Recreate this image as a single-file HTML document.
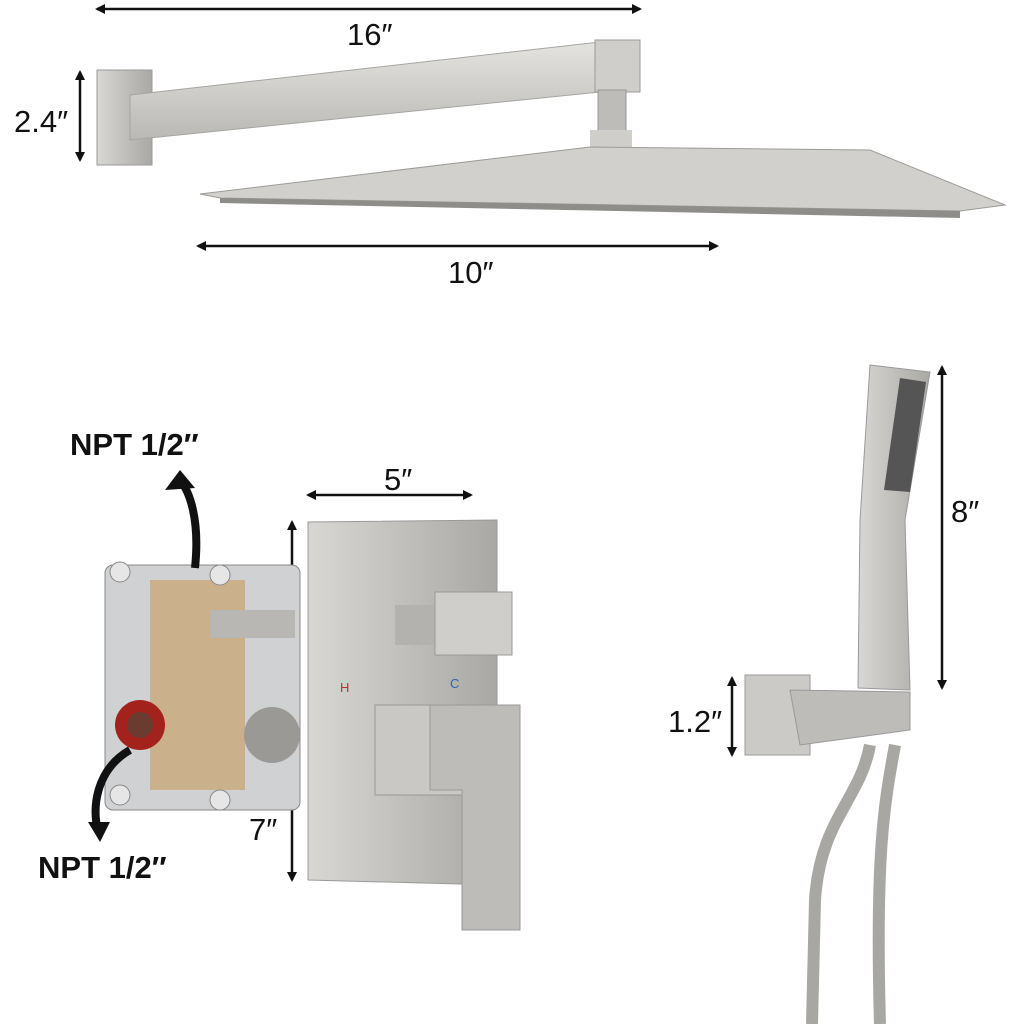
<!DOCTYPE html>
<html><head><meta charset="utf-8"><style>
html,body{margin:0;padding:0;background:#fff;width:1024px;height:1024px;overflow:hidden}
text{font-family:"Liberation Sans",sans-serif;fill:#111}
</style></head><body>
<svg width="1024" height="1024" viewBox="0 0 1024 1024" xmlns="http://www.w3.org/2000/svg">
<defs>
<marker id="a" markerWidth="10" markerHeight="10" refX="8" refY="5" orient="auto-start-reverse" markerUnits="userSpaceOnUse"><path d="M0,0 L10,5 L0,10 z" fill="#111"/></marker>
<linearGradient id="m" x1="0" y1="0" x2="0" y2="1"><stop offset="0" stop-color="#e4e3e0"/><stop offset="1" stop-color="#b9b8b4"/></linearGradient>
<linearGradient id="mh" x1="0" y1="0" x2="1" y2="0"><stop offset="0" stop-color="#d8d7d4"/><stop offset="1" stop-color="#a9a8a4"/></linearGradient>
</defs>
<g stroke="#111" stroke-width="2.5" fill="none">
<line x1="97" y1="9" x2="640" y2="9" marker-start="url(#a)" marker-end="url(#a)"/>
<line x1="80" y1="72" x2="80" y2="160" marker-start="url(#a)" marker-end="url(#a)"/>
<line x1="198" y1="246" x2="717" y2="246" marker-start="url(#a)" marker-end="url(#a)"/>
<line x1="308" y1="495" x2="471" y2="495" marker-start="url(#a)" marker-end="url(#a)"/>
<line x1="292" y1="522" x2="292" y2="880" marker-start="url(#a)" marker-end="url(#a)"/>
<line x1="942" y1="367" x2="942" y2="688" marker-start="url(#a)" marker-end="url(#a)"/>
<line x1="732" y1="678" x2="732" y2="755" marker-start="url(#a)" marker-end="url(#a)"/>
</g>
<g font-size="31">
<text x="347" y="45">16″</text>
<text x="14" y="132">2.4″</text>
<text x="448" y="283">10″</text>
<text x="384" y="490">5″</text>
<text x="249" y="840">7″</text>
<text x="951" y="522">8″</text>
<text x="668" y="732">1.2″</text>
<text x="70" y="455" font-weight="bold">NPT 1/2″</text>
<text x="38" y="878" font-weight="bold">NPT 1/2″</text>
</g>
<rect x="97" y="70" width="55" height="95" fill="url(#mh)" stroke="#999"/>
<polygon points="130,95 600,42 640,42 640,90 600,92 130,140" fill="url(#m)" stroke="#a5a5a2"/>
<rect x="595" y="40" width="45" height="52" fill="#cfcecb" stroke="#999"/>
<rect x="598" y="90" width="28" height="42" fill="#bdbcb8" stroke="#999"/>
<rect x="590" y="130" width="42" height="18" fill="#cfcecb"/>
<polygon points="200,194 590,147 870,150 1005,205 960,211 220,198" fill="#d1d0cd" stroke="#9c9b98"/>
<polygon points="220,198 960,211 960,218 220,203" fill="#8e8d8a"/>
<rect x="105" y="565" width="195" height="245" rx="8" fill="#cfd1d2" stroke="#888"/>
<rect x="150" y="580" width="95" height="210" fill="#c8a46e" opacity=".7"/>
<rect x="210" y="610" width="85" height="28" fill="#b8b7b3"/>
<circle cx="140" cy="725" r="25" fill="#a3231c"/><circle cx="140" cy="725" r="13" fill="#6b3b30"/>
<circle cx="272" cy="735" r="28" fill="#9a9995"/>
<g fill="#e6e6e6" stroke="#888"><circle cx="120" cy="572" r="10"/><circle cx="220" cy="575" r="10"/><circle cx="120" cy="795" r="10"/><circle cx="220" cy="800" r="10"/></g>
<path d="M195,568 C200,520 190,490 178,478" stroke="#111" stroke-width="8" fill="none"/>
<polygon points="165,490 180,470 195,488" fill="#111"/>
<path d="M130,750 C95,770 92,810 98,830" stroke="#111" stroke-width="8" fill="none"/>
<polygon points="88,822 100,842 110,822" fill="#111"/>
<polygon points="308,522 497,520 497,885 308,880" fill="url(#mh)" stroke="#999"/>
<rect x="395" y="605" width="45" height="40" fill="#b3b2ae"/>
<rect x="435" y="592" width="77" height="63" fill="#cfcecb" stroke="#999"/>
<text x="340" y="692" font-size="13" style="fill:#b33">H</text>
<text x="450" y="688" font-size="13" style="fill:#36a">C</text>
<rect x="375" y="705" width="145" height="90" fill="#c9c8c4" stroke="#999"/>
<polygon points="430,705 520,705 520,930 462,930 462,790 430,790" fill="#bdbcb8" stroke="#999"/>
<polygon points="870,365 930,372 905,520 910,690 858,688 860,520" fill="url(#mh)" stroke="#999"/>
<polygon points="900,378 926,382 910,492 884,490" fill="#555"/>
<rect x="745" y="675" width="65" height="80" fill="#cbcac6" stroke="#999"/>
<polygon points="790,690 910,692 910,730 800,745" fill="#bdbcb8" stroke="#999"/>
<path d="M870,745 C860,800 820,820 815,900 L812,1024" stroke="#a8a7a3" stroke-width="12" fill="none"/>
<path d="M895,745 C885,800 875,850 880,1024" stroke="#a8a7a3" stroke-width="12" fill="none"/>
</svg>
</body></html>
